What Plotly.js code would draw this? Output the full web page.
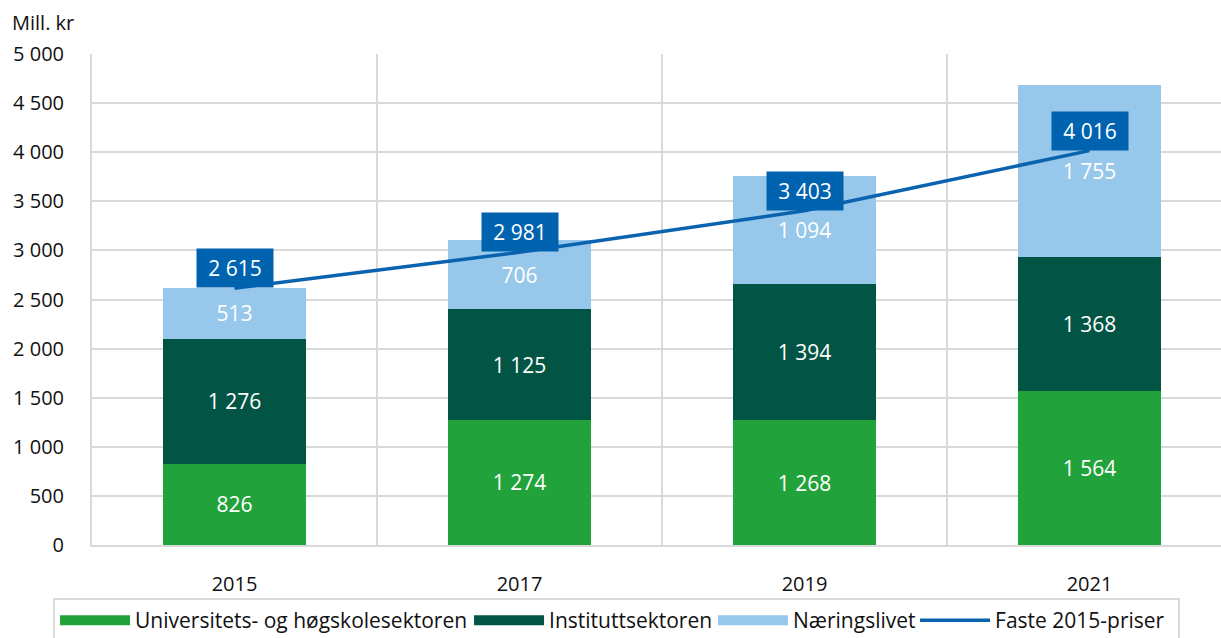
<!DOCTYPE html>
<html>
<head>
<meta charset="utf-8">
<script src="https://cdn.plot.ly/plotly-3.0.1.min.js"></script>
<style>html,body{margin:0;padding:0;background:#fff;}#chart{width:1221px;height:638px;}</style>
</head>
<body>
<div id="chart"></div>
<script>
const years = ['2015', '2017', '2019', '2021'];
const uhSektor = [826, 1274, 1268, 1564];
const instituttSektor = [1276, 1125, 1394, 1368];
const naeringslivet = [513, 706, 1094, 1755];
const fastePriser = [2615, 2981, 3403, 4016];
const seriesNames = ['Universitets- og høgskolesektoren', 'Instituttsektoren', 'Næringslivet', 'Faste 2015-priser'];
const seriesColors = ['#22a23a', '#025545', '#97c7eb', '#0a63ae'];
const legendWidths = [329, 159, 117, 178];

const xs = years.map((_, i) => i);
function fmt(v) { return String(v).replace(/\B(?=(\d{3})+(?!\d))/g, ' '); }

const barFont = {family: 'Open Sans', size: 21, color: '#ffffff'};
function barTrace(vals, k) {
  return {
    type: 'bar', x: xs, y: vals, name: seriesNames[k],
    legendgroup: 'g' + k, showlegend: false,
    marker: {color: seriesColors[k]},
    width: 0.5,
    text: vals.map(fmt), textposition: 'inside', insidetextanchor: 'middle',
    textfont: barFont, hoverinfo: 'skip'
  };
}
// legend keys drawn as wide swatches (same groups as the bars, no data of their own)
function legendKey(k) {
  return {
    type: 'scatter', mode: 'lines', x: [null], y: [null], name: seriesNames[k],
    legendgroup: 'g' + k, legendwidth: legendWidths[k], legendrank: k + 1,
    line: {color: seriesColors[k], width: 14}, hoverinfo: 'skip'
  };
}

const data = [
  barTrace(uhSektor, 0),
  barTrace(instituttSektor, 1),
  barTrace(naeringslivet, 2),
  legendKey(0), legendKey(1), legendKey(2),
  {type: 'scatter', mode: 'lines', x: xs, y: fastePriser, name: seriesNames[3],
   legendwidth: legendWidths[3], legendrank: 4,
   line: {color: seriesColors[3], width: 3.5}, hoverinfo: 'skip'}
];

const annotations = fastePriser.map((v, i) => ({
  x: xs[i], y: v, xref: 'x', yref: 'y', text: fmt(v), showarrow: false,
  yanchor: 'bottom', xanchor: 'center', bgcolor: '#0063af',
  width: 76, height: 38, borderpad: 0,
  font: {family: 'Open Sans', size: 21, color: '#ffffff'}
}));
annotations.push({
  x: -0.0725, y: 1.065, xref: 'paper', yref: 'paper', xanchor: 'left', yanchor: 'middle',
  text: 'Mill. kr', showarrow: false, font: {family: 'Open Sans', size: 20, color: '#111'}
});

const layout = {
  width: 1221, height: 638,
  margin: {l: 92, r: 0, t: 54, b: 93, pad: 0, autoexpand: false},
  paper_bgcolor: '#fff', plot_bgcolor: '#fff',
  separators: ', ',
  font: {family: 'Open Sans', size: 20, color: '#111'},
  barmode: 'stack',
  showlegend: true,
  legend: {
    orientation: 'h', x: -0.0345, xanchor: 'left', y: -0.108, yanchor: 'top',
    bordercolor: '#d9d9d9', borderwidth: 2, bgcolor: '#fff',
    font: {family: 'Open Sans', size: 21, color: '#111'},
    traceorder: 'normal', itemwidth: 70
  },
  xaxis: {
    range: [-0.5, -0.5 + 1129 / 285], tickvals: xs, ticktext: years,
    showgrid: false, zeroline: false, showline: true, linecolor: '#d9d9d9', linewidth: 2,
    ticks: '', ticklabelstandoff: 20, fixedrange: true, automargin: false,
    tickfont: {family: 'Open Sans', size: 20, color: '#111'},
    minor: {tick0: 0.5, dtick: 1, showgrid: true, gridcolor: '#d9d9d9', gridwidth: 2, ticks: ''}
  },
  yaxis: {
    range: [0, 5000], dtick: 500, tickformat: ',d',
    showgrid: true, gridcolor: '#d9d9d9', gridwidth: 2,
    zeroline: false, showline: true, linecolor: '#d9d9d9', linewidth: 2,
    ticks: '', ticklabelstandoff: 22, fixedrange: true, automargin: false,
    tickfont: {family: 'Open Sans', size: 20, color: '#111'}
  },
  annotations: annotations
};

Plotly.newPlot('chart', data, layout, {displayModeBar: false, staticPlot: true});
</script>
</body>
</html>
